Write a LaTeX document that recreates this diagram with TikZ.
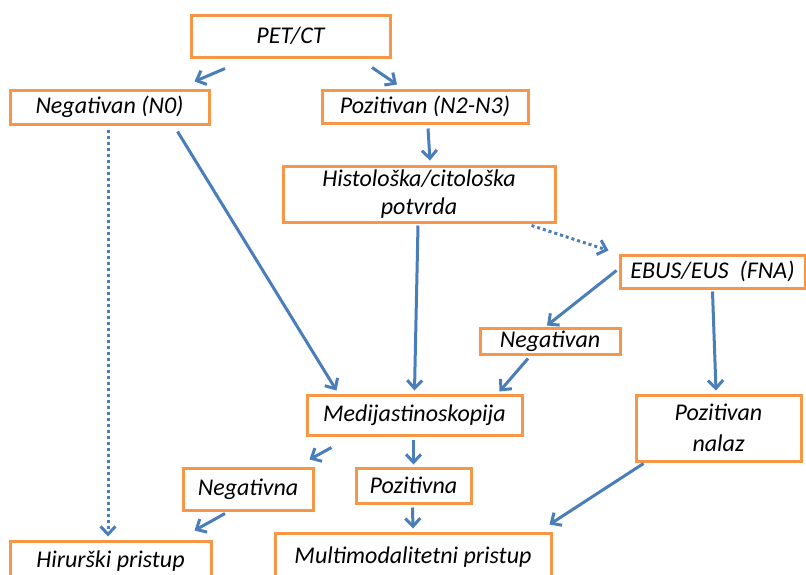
\documentclass[tikz,border=0pt]{standalone}
\usepackage{fontspec}
\setmainfont{Carlito}
\usetikzlibrary{arrows.meta, calc}
\definecolor{boxorange}{HTML}{F79646}
\definecolor{arrblue}{HTML}{4A7EBB}

\begin{document}
\begin{tikzpicture}[
    x=1pt, y=-1pt,
    box/.style={draw=boxorange, line width=3pt, fill=white, inner sep=0pt, align=center, font=\fontsize{24}{28}\selectfont\itshape},
    arr/.style={draw=arrblue, line width=3pt, -{Straight Barb[length=8pt, width=15pt, line width=3pt]}},
    dotarr/.style={arr, dash pattern=on 3pt off 3pt},
]
\useasboundingbox (0,0) rectangle (806,574);

% Top level
\node[box, minimum width=199pt, minimum height=42pt] (pet) at (290.5,36) {PET/CT};
\node[box, minimum width=199pt, minimum height=34pt] (neg0) at (109.5,107) {Negativan (N0)};
\node[box, minimum width=206pt, minimum height=33pt] (poz) at (425,106.5) {Pozitivan (N2-N3)};
\node[box, minimum width=272pt, minimum height=56pt] (hist) at (419,194) {Histološka/citološka\\potvrda};

% Right branch
\node[box, minimum width=185pt, minimum height=33pt] (ebus) at (712.5,271.5) {EBUS/EUS\ \ (FNA)};
\node[box, minimum width=140pt, minimum height=26pt] (negv) at (550,341) {Negativan};
\node[box, minimum width=165pt, minimum height=66pt, font=\fontsize{24}{31}\selectfont\itshape] (poznal) at (718.5,428) {Pozitivan\\nalaz};

% Middle
\node[box, minimum width=215pt, minimum height=40pt] (medi) at (414.5,415) {Medijastinoskopija};
\node[box, minimum width=130pt, minimum height=42pt] (negna) at (248,489) {Negativna};
\node[box, minimum width=115pt, minimum height=35pt] (pozna) at (413.5,485.5) {Pozitivna};

% Bottom
\node[box, minimum width=201pt, minimum height=40pt] (hir) at (110.5,561) {Hirurški pristup};
\node[box, minimum width=276pt, minimum height=48pt] (multi) at (413,557) {Multimodalitetni pristup};

% Arrows
\draw[arr] ($(pet.south)+(-65.5,10)$) -- ($(neg0.north east)+(-16,-7)$);
\draw[arr] ($(pet.south)+(81.5,9)$) -- ($(poz.north)+(-28,-4)$);
\draw[dotarr] ($(neg0.south)+(-1.5,4)$) -- ($(hir.north)+(-2.5,-3)$);
\draw[arr] ($(neg0.south east)+(-33,6)$) -- ($(medi.north west)+(31,-3)$);
\draw[arr] ($(poz.south)+(3,4)$) -- ($(hist.north)+(11,-4)$);
\draw[arr] ($(hist.south)+(-1,2)$) -- ($(medi.north)+(0,-3)$);
\draw[dotarr] ($(hist.south east)+(-25,2)$) -- ($(ebus.north west)+(-10,-3)$);
\draw[arr] ($(ebus.west)+(-2,-1)$) -- ($(negv.north)+(-3,-1)$);
\draw[arr] ($(ebus.south)+(0,2)$) -- ($(poznal.north)+(-2.5,-3)$);
\draw[arr] ($(negv.south)+(-22,3)$) -- ($(medi.north east)+(-24,-2)$);
\draw[arr] ($(medi.south west)+(26,11)$) -- ($(negna.north east)+(-5,-7)$);
\draw[arr] ($(medi.south)+(-1,3)$) -- ($(pozna.north)+(0,-2)$);
\draw[arr] ($(negna.south)+(-23,2)$) -- ($(hir.north east)+(-18,-9)$);
\draw[arr] ($(pozna.south)+(-1,3)$) -- ($(multi.north)+(0,-3)$);
\draw[arr] ($(poznal.south west)+(9,1)$) -- ($(multi.north east)+(-3,-7)$);

\end{tikzpicture}
\end{document}
